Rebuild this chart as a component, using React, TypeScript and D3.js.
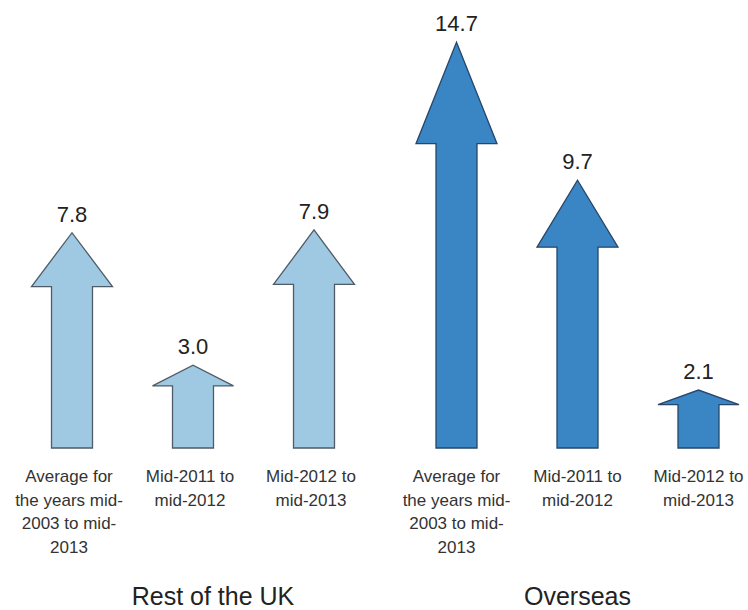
import { useEffect } from "react";
import * as d3 from "d3";

const WIDTH = 748;
const HEIGHT = 610;
const FONT = "'Liberation Sans', Arial, sans-serif";

// groups and periods
const groups = ["Rest of the UK", "Overseas"];
const periods = ["avg", "2011-12", "2012-13"];
const periodLabels = [
  ["Average for", "the years mid-", "2003 to mid-", "2013"],
  ["Mid-2011 to", "mid-2012"],
  ["Mid-2012 to", "mid-2013"],
];
const restOfUK = [7.8, 3.0, 7.9];
const overseas = [14.7, 9.7, 2.1];
const seriesValues = [restOfUK, overseas];
const groupColors = ["#9fc8e3", "#3a85c3"];
const groupStrokes = ["#4f5b66", "#26476a"];
// small horizontal nudge for the group captions
const GROUP_LABEL_DX = [20, 0];

const SHAFT_HALF = 20.5;
const HEAD_HALF = 40.5;
const HEAD_SHARE = 0.25; // head takes a quarter of the arrow length

export default function App() {
  useEffect(() => {
    document.body.style.margin = "0";
  }, []);

  const x0 = d3.scalePoint<string>().domain(groups).range([193, 577.5]);
  const x1 = d3.scalePoint<string>().domain(periods).range([-121, 121]);
  const y = d3.scaleLinear().domain([0, 15]).range([448, 34]);

  const arrowPath = (cx: number, v: number) => {
    const base = y(0);
    const tip = y(v);
    const headBase = tip + (base - tip) * HEAD_SHARE;
    const p = d3.path();
    p.moveTo(cx - SHAFT_HALF, base);
    p.lineTo(cx - SHAFT_HALF, headBase);
    p.lineTo(cx - HEAD_HALF, headBase);
    p.lineTo(cx, tip);
    p.lineTo(cx + HEAD_HALF, headBase);
    p.lineTo(cx + SHAFT_HALF, headBase);
    p.lineTo(cx + SHAFT_HALF, base);
    p.closePath();
    return p.toString();
  };

  return (
    <svg width={WIDTH} height={HEIGHT} style={{ display: "block", background: "#fff" }}>
      {groups.map((g, gi) => {
        const gx = x0(g) ?? 0;
        return (
          <g key={g}>
            {periods.map((per, pi) => {
              const cx = gx + (x1(per) ?? 0);
              const v = seriesValues[gi][pi];
              const lx = cx - (gi === 0 ? 3 : 0);
              return (
                <g key={per}>
                  <path
                    d={arrowPath(cx, v)}
                    fill={groupColors[gi]}
                    stroke={groupStrokes[gi]}
                    strokeWidth={1.3}
                    strokeLinejoin="miter"
                  />
                  <text
                    x={cx}
                    y={y(v) - 11}
                    textAnchor="middle"
                    fontFamily={FONT}
                    fontSize={22}
                    fill="#222"
                  >
                    {v.toFixed(1)}
                  </text>
                  <text
                    x={lx}
                    y={482}
                    textAnchor="middle"
                    fontFamily={FONT}
                    fontSize={17}
                    fill="#333"
                  >
                    {periodLabels[pi].map((line, li) => (
                      <tspan key={li} x={lx} dy={li === 0 ? 0 : 23.5}>
                        {line}
                      </tspan>
                    ))}
                  </text>
                </g>
              );
            })}
            <text
              x={gx + GROUP_LABEL_DX[gi]}
              y={605}
              textAnchor="middle"
              fontFamily={FONT}
              fontSize={25}
              fill="#222"
            >
              {g}
            </text>
          </g>
        );
      })}
    </svg>
  );
}
